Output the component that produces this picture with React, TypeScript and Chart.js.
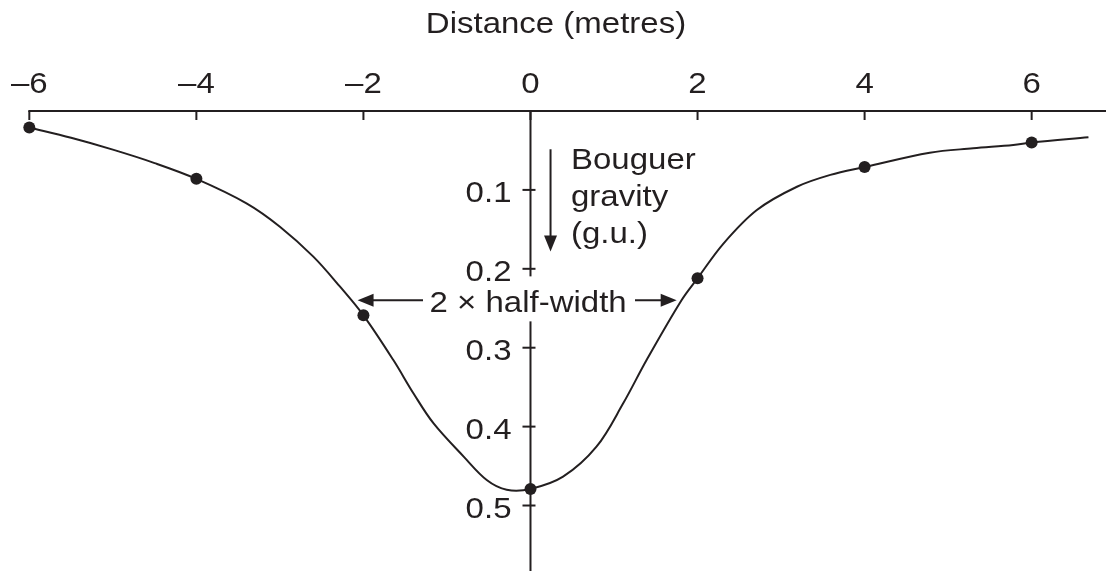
import React, { useEffect, useRef } from "react";
import { Chart, registerables } from "chart.js";

Chart.register(...registerables);

// Axis ticks
const X_TICKS = [-6, -4, -2, 0, 2, 4, 6];
const X_TICK_LABELS = ["–6", "–4", "–2", "0", "2", "4", "6"];
const Y_TICKS = [0.1, 0.2, 0.3, 0.4, 0.5];
const Y_TICK_LABELS = ["0.1", "0.2", "0.3", "0.4", "0.5"];

// Measured stations (distance in metres, Bouguer gravity in g.u.)
const STATION_X = [-6, -4, -2, 0, 2, 4, 6];
const STATION_G = [0.021, 0.086, 0.259, 0.479, 0.212, 0.071, 0.04];

// Smooth profile drawn through the stations
const PROFILE_X = [
  -6, -5.5, -5, -4.5, -4, -3.4, -3, -2.6, -2.28, -2, -1.64, -1.4, -1.16, -0.8, -0.52, -0.285, 0,
  0.39, 0.79, 1.11, 1.39, 1.81, 2, 2.31, 2.71, 3.19, 3.59, 4, 4.78, 5.3, 5.78, 6, 6.68,
];
const PROFILE_G = [
  0.021, 0.034, 0.049, 0.066, 0.086, 0.117, 0.1466, 0.1846, 0.2227, 0.259, 0.316, 0.358, 0.396, 0.438, 0.468, 0.48, 0.479,
  0.4635, 0.4255, 0.3705, 0.3156, 0.2395, 0.212, 0.168, 0.1255, 0.096, 0.081, 0.071, 0.0528, 0.0473, 0.0431, 0.04, 0.0333,
];

// Half-width marker: level (half the peak anomaly) and where it meets the profile
const HALF_LEVEL = 0.24;
const HALF_LEFT = -2.07;
const HALF_RIGHT = 1.75;

const INK = "#231f20";
const FONT = '"Liberation Sans", Arial, Helvetica, sans-serif';

function drawText(
  ctx: CanvasRenderingContext2D,
  s: string,
  x: number,
  y: number,
  align: CanvasTextAlign,
  size = 30
) {
  ctx.save();
  ctx.translate(x, y);
  ctx.scale(1.1, 1);
  ctx.font = `${size}px ${FONT}`;
  ctx.textAlign = align;
  ctx.textBaseline = "alphabetic";
  ctx.fillStyle = INK;
  ctx.fillText(s, 0, 0);
  ctx.restore();
}

function arrowHead(ctx: CanvasRenderingContext2D, tx: number, ty: number, dx: number, dy: number) {
  // dx, dy: unit direction of the arrow
  const len = 16;
  const half = 6.5;
  const bx = tx - dx * len;
  const by = ty - dy * len;
  ctx.beginPath();
  ctx.moveTo(tx, ty);
  ctx.lineTo(bx - dy * half, by + dx * half);
  ctx.lineTo(bx + dy * half, by - dx * half);
  ctx.closePath();
  ctx.fill();
}

const axesPlugin = {
  id: "crossAxes",
  beforeDatasetsDraw(chart: any) {
    const ctx: CanvasRenderingContext2D = chart.ctx;
    const xs = chart.scales.x;
    const ys = chart.scales.y;
    const x0 = xs.getPixelForValue(0);
    const yTop = ys.getPixelForValue(0);
    const hy = ys.getPixelForValue(HALF_LEVEL);

    ctx.save();
    ctx.strokeStyle = INK;
    ctx.fillStyle = INK;
    ctx.lineWidth = 2;
    ctx.lineCap = "butt";

    // Distance axis along the top
    ctx.beginPath();
    ctx.moveTo(xs.getPixelForValue(X_TICKS[0]) - 1, yTop);
    ctx.lineTo(chart.width, yTop);
    ctx.stroke();

    // Gravity axis through the origin
    ctx.beginPath();
    ctx.moveTo(x0, yTop);
    ctx.lineTo(x0, chart.height);
    ctx.stroke();

    // Blank band behind the half-width label
    ctx.fillStyle = "#ffffff";
    ctx.fillRect(426, hy - 24, 208, 45);
    ctx.fillStyle = INK;

    X_TICKS.forEach((v, i) => {
      const px = xs.getPixelForValue(v);
      ctx.beginPath();
      ctx.moveTo(px, yTop);
      ctx.lineTo(px, yTop + 9);
      ctx.stroke();
      drawText(ctx, X_TICK_LABELS[i], px, yTop - 18, "center");
    });
    drawText(ctx, "Distance (metres)", 556, 33, "center");

    Y_TICKS.forEach((v, i) => {
      const py = ys.getPixelForValue(v);
      ctx.beginPath();
      ctx.moveTo(x0 - 8, py);
      ctx.lineTo(x0 + 5, py);
      ctx.stroke();
      drawText(ctx, Y_TICK_LABELS[i], x0 - 19, py + 12, "right");
    });

    // Downward arrow with the gravity label
    const ax = xs.getPixelForValue(0.24);
    const ay1 = ys.getPixelForValue(0.0485);
    const ay2 = ys.getPixelForValue(0.178);
    ctx.beginPath();
    ctx.moveTo(ax, ay1);
    ctx.lineTo(ax, ay2 - 12);
    ctx.stroke();
    arrowHead(ctx, ax, ay2, 0, 1);
    drawText(ctx, "Bouguer", x0 + 40.5, 169, "left");
    drawText(ctx, "gravity", x0 + 40.5, 206, "left");
    drawText(ctx, "(g.u.)", x0 + 40.5, 243, "left");

    // Half-width marker
    const lx = xs.getPixelForValue(HALF_LEFT);
    const rx = xs.getPixelForValue(HALF_RIGHT);
    drawText(ctx, "2 × half-width", 429.5, hy + 11.5, "left");
    ctx.beginPath();
    ctx.moveTo(423, hy);
    ctx.lineTo(lx + 12, hy);
    ctx.moveTo(635, hy);
    ctx.lineTo(rx - 12, hy);
    ctx.stroke();
    arrowHead(ctx, lx, hy, -1, 0);
    arrowHead(ctx, rx, hy, 1, 0);

    ctx.restore();
  },
};

export default function App() {
  const canvasRef = useRef<HTMLCanvasElement | null>(null);

  useEffect(() => {
    const canvas = canvasRef.current;
    if (!canvas) return;
    const chart = new Chart(canvas, {
      type: "line",
      data: {
        datasets: [
          {
            label: "profile",
            data: PROFILE_X.map((x, i) => ({ x, y: PROFILE_G[i] })),
            borderColor: INK,
            borderWidth: 2,
            pointRadius: 0,
            tension: 0.35,
            fill: false,
          },
          {
            label: "stations",
            data: STATION_X.map((x, i) => ({ x, y: STATION_G[i] })),
            showLine: false,
            pointRadius: 6,
            pointBackgroundColor: INK,
            pointBorderColor: INK,
            pointBorderWidth: 0,
          },
        ],
      },
      options: {
        responsive: false,
        animation: false,
        devicePixelRatio: 1,
        layout: { autoPadding: false, padding: { top: 111, left: 0, right: 0, bottom: 0 } },
        plugins: {
          legend: { display: false },
          tooltip: { enabled: false },
          title: { display: false },
        },
        scales: {
          x: { type: "linear", min: -6.351, max: 6.89, display: false },
          y: { type: "linear", min: 0, max: 0.583, reverse: true, display: false },
        },
      },
      plugins: [axesPlugin],
    });
    return () => chart.destroy();
  }, []);

  return (
    <div style={{ position: "fixed", left: 0, top: 0, width: 1106, height: 571, background: "#fff" }}>
      <canvas ref={canvasRef} width={1106} height={571} style={{ display: "block" }} />
    </div>
  );
}
